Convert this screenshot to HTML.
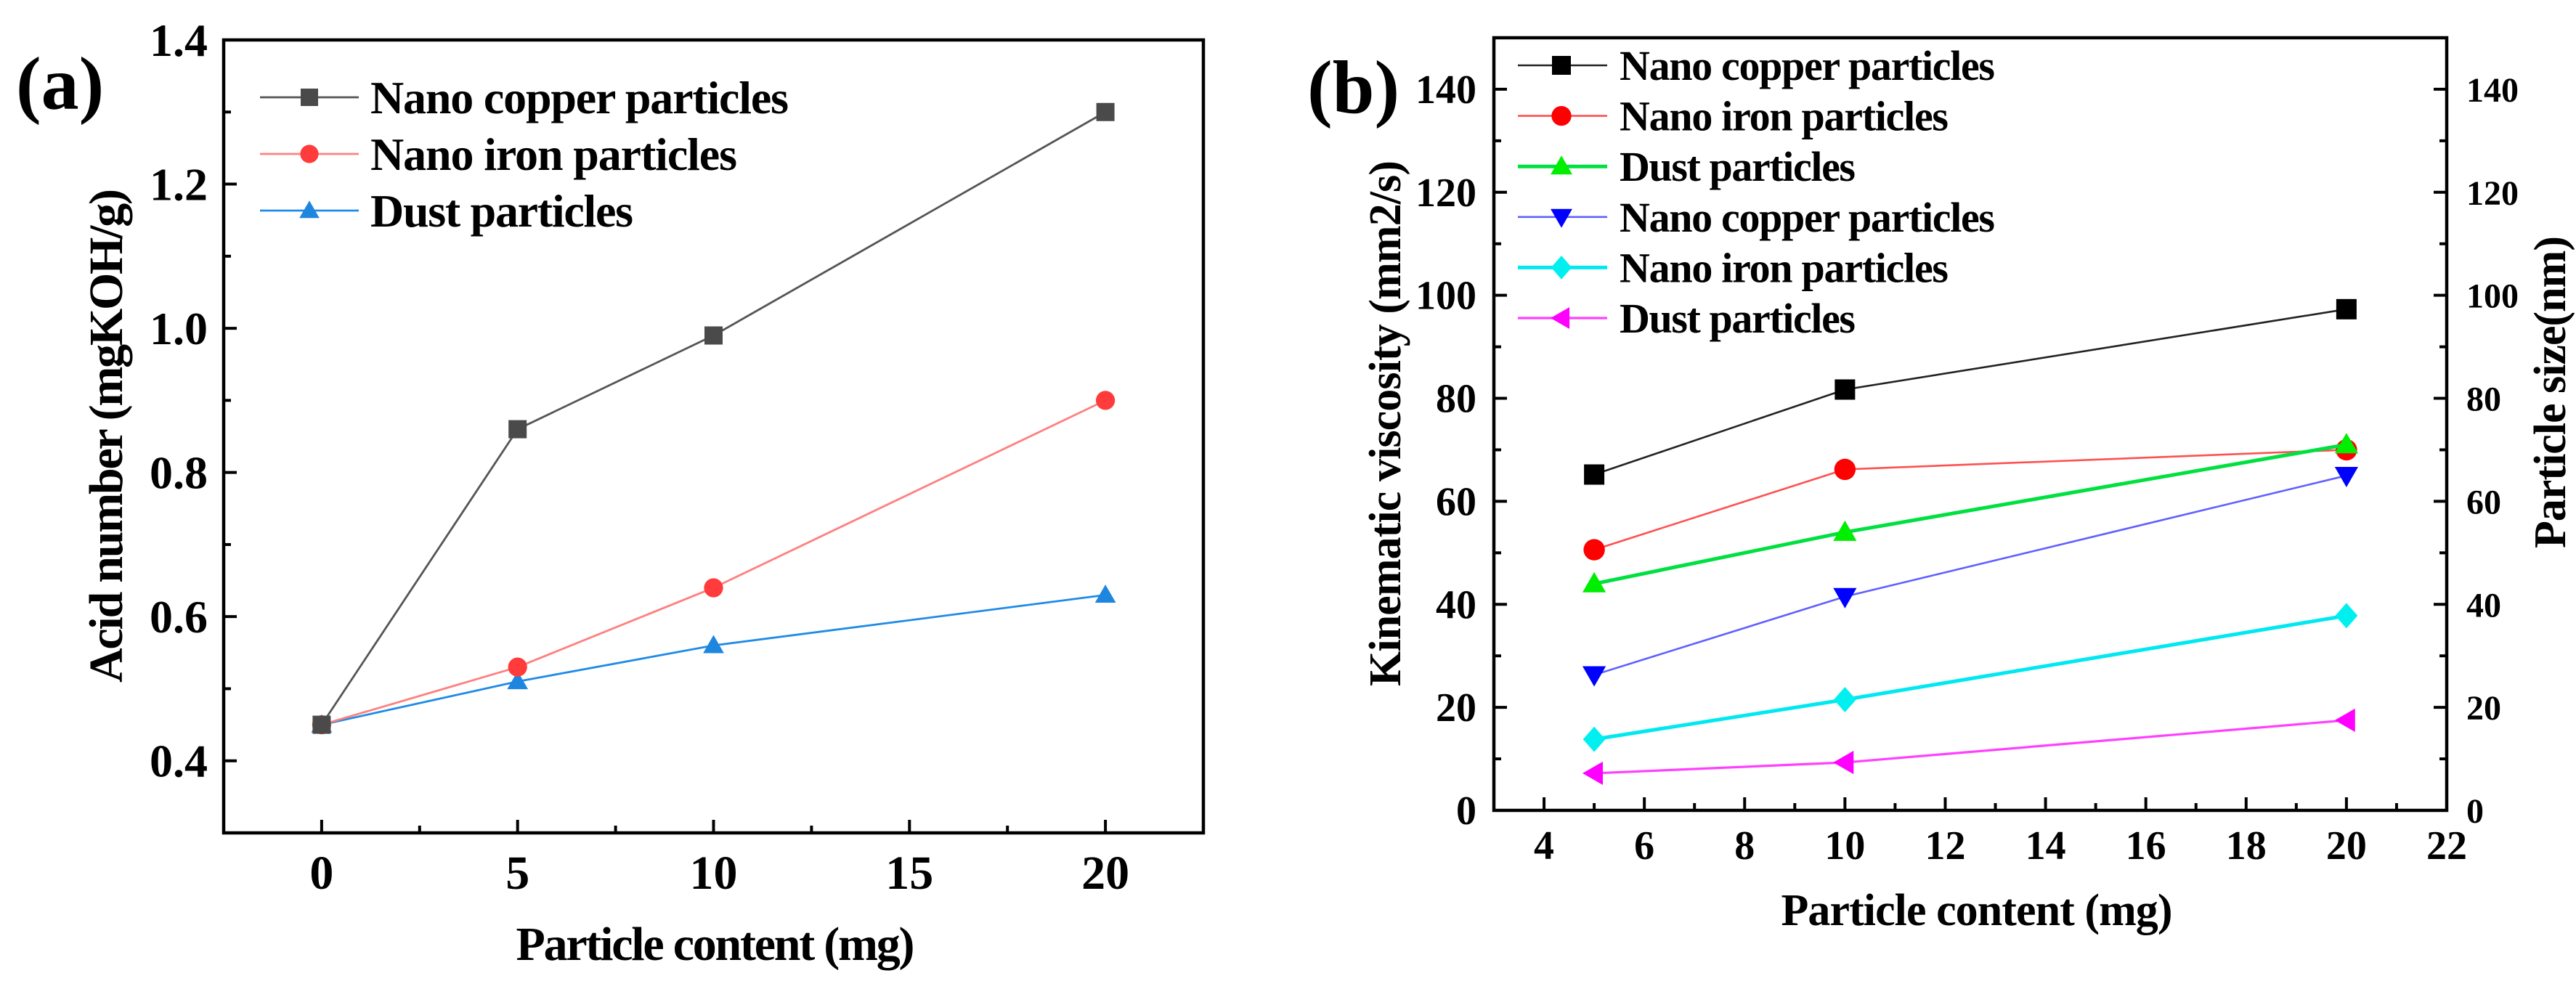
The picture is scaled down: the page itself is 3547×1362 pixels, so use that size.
<!DOCTYPE html>
<html><head><meta charset="utf-8"><style>
html,body{margin:0;padding:0;background:#fff;}
svg{display:block;}
text{font-family:"Liberation Serif",serif;font-weight:bold;fill:#000;}
</style></head><body>
<svg id="fig" width="3547" height="1362" viewBox="0 0 3547 1362" xmlns="http://www.w3.org/2000/svg"></svg>
<script>
// Panel (a) data
const aX = [0, 5, 10, 20];
const aCopper = [0.45, 0.86, 0.99, 1.30];
const aIron = [0.45, 0.53, 0.64, 0.90];
const aDust = [0.45, 0.51, 0.56, 0.63];
const aXTicks = [0, 5, 10, 15, 20];
const aYTicks = [0.4, 0.6, 0.8, 1.0, 1.2, 1.4];
const aYTickLabels = ["0.4", "0.6", "0.8", "1.0", "1.2", "1.4"];
// Panel (b) data
const bX = [5, 10, 20];
const bCopperVisc = [65.2, 81.7, 97.3];
const bIronVisc = [50.6, 66.2, 70.0];
const bDustVisc = [44.0, 54.0, 71.0];
const bCopperSize = [26.3, 41.5, 65.0];
const bIronSize = [13.8, 21.5, 37.8];
const bDustSize = [7.2, 9.3, 17.5];
const bXTicks = [4, 6, 8, 10, 12, 14, 16, 18, 20, 22];
const bYTicks = [0, 20, 40, 60, 80, 100, 120, 140];

const NS = "http://www.w3.org/2000/svg";
const svg = document.getElementById('fig');
function el(tag, attrs, parent) {
  const e = document.createElementNS(NS, tag);
  for (const k in attrs) e.setAttribute(k, attrs[k]);
  (parent || svg).appendChild(e);
  return e;
}
function txt(s, attrs, parent) { const t = el('text', attrs, parent); t.textContent = s; return t; }

function marker(g, shape, cx, cy, color, s) {
  let m;
  const h = s / 2;
  if (shape === 'square') m = el('rect', {x: cx - h, y: cy - h, width: s, height: s, fill: color}, g);
  else if (shape === 'circle') m = el('circle', {cx: cx, cy: cy, r: h * 1.05, fill: color}, g);
  else if (shape === 'up') m = el('polygon', {points: `${cx},${cy - h * 1.15} ${cx - h * 1.15},${cy + h * 0.85} ${cx + h * 1.15},${cy + h * 0.85}`, fill: color}, g);
  else if (shape === 'down') m = el('polygon', {points: `${cx},${cy + h * 1.15} ${cx - h * 1.15},${cy - h * 0.85} ${cx + h * 1.15},${cy - h * 0.85}`, fill: color}, g);
  else if (shape === 'diamond') m = el('polygon', {points: `${cx},${cy - h * 1.25} ${cx + h * 1.1},${cy} ${cx},${cy + h * 1.25} ${cx - h * 1.1},${cy}`, fill: color}, g);
  else if (shape === 'left') m = el('polygon', {points: `${cx - h * 1.15},${cy} ${cx + h * 0.85},${cy - h * 1.15} ${cx + h * 0.85},${cy + h * 1.15}`, fill: color}, g);
  
  
  return m;
}

// ---------- Panel (a) ----------
const A = {l: 308, t: 55, r: 1657, b: 1147, x0: -2.5, x1: 22.5, y0: 0.3, y1: 1.4};
const ax = v => A.l + (v - A.x0) / (A.x1 - A.x0) * (A.r - A.l);
const ay = v => A.b - (v - A.y0) / (A.y1 - A.y0) * (A.b - A.t);
const gA = el('g', { });
txt('(a)', {x: 22, y: 150, 'font-size': 104,  }, gA);
el('rect', {x: A.l, y: A.t, width: A.r - A.l, height: A.b - A.t, fill: 'none', stroke: '#000', 'stroke-width': 4.5,  }, gA);
for (let v = -2.5; v <= 22.5; v += 2.5) {
  if (v <= A.x0 || v >= A.x1) continue;
  const major = Math.abs(v % 5) < 1e-6;
  el('line', {x1: ax(v), x2: ax(v), y1: A.b, y2: A.b - (major ? 18 : 10), stroke: '#000', 'stroke-width': 4,  }, gA);
}
aXTicks.forEach(v => txt(String(v), {x: ax(v), y: 1224, 'font-size': 66, 'text-anchor': 'middle',  }, gA));
for (let i = 3; i <= 13; i++) {
  const v = i / 10;
  const major = i % 2 === 0;
  el('line', {x1: A.l, x2: A.l + (major ? 18 : 10), y1: ay(v), y2: ay(v), stroke: '#000', 'stroke-width': 4,  }, gA);
}
aYTicks.forEach((v, i) => txt(aYTickLabels[i], {x: 286, y: ay(v) + 22, 'font-size': 64, 'text-anchor': 'end',  }, gA));
txt('Particle content (mg)', {x: 985, y: 1322, 'font-size': 66, 'text-anchor': 'middle', textLength: 549,  }, gA);
txt('Acid number (mgKOH/g)', {x: 0, y: 0, 'font-size': 66, 'text-anchor': 'middle', textLength: 680, transform: 'translate(168,600) rotate(-90)',  }, gA);

const aSeries = [
  {name: 'Nano copper particles', vals: aCopper, line: '#555', mcolor: '#4a4a4a', shape: 'square', key: 'copper'},
  {name: 'Nano iron particles', vals: aIron, line: '#ff8080', mcolor: '#ff3b3b', shape: 'circle', key: 'iron'},
  {name: 'Dust particles', vals: aDust, line: '#1f8be6', mcolor: '#1f86e0', shape: 'up', key: 'dust'}
];
[...aSeries].reverse().forEach(s => {
  const g = el('g', { }, gA);
  el('polyline', {points: aX.map((x, i) => ax(x) + ',' + ay(s.vals[i])).join(' '), fill: 'none', stroke: s.line, 'stroke-width': 2.8,  }, g);
  aX.forEach((x, i) => marker(g, s.shape, ax(x), ay(s.vals[i]), s.mcolor, 25));
});
aSeries.forEach((s, i) => {
  const y = 134 + i * 78;
  const g = el('g', { }, gA);
  el('line', {x1: 358, x2: 494, y1: y, y2: y, stroke: s.line, 'stroke-width': 2.8}, g);
  marker(g, s.shape, 426, y, s.mcolor, 24);
  const w = [576, 505, 362][i];
  txt(s.name, {x: 510, y: y + 22, 'font-size': 64, textLength: w,  }, g);
});

// ---------- Panel (b) ----------
const B = {l: 2057, t: 52, r: 3369, b: 1116, x0: 3, x1: 22, y0: 0, y1: 150};
const bx = v => B.l + (v - B.x0) / (B.x1 - B.x0) * (B.r - B.l);
const by = v => B.b - (v - B.y0) / (B.y1 - B.y0) * (B.b - B.t);
const gB = el('g', { });
txt('(b)', {x: 1800, y: 155, 'font-size': 104,  }, gB);
el('rect', {x: B.l, y: B.t, width: B.r - B.l, height: B.b - B.t, fill: 'none', stroke: '#000', 'stroke-width': 4.5,  }, gB);
for (let v = 4; v <= 21; v += 1) {
  const major = v % 2 === 0;
  el('line', {x1: bx(v), x2: bx(v), y1: B.b, y2: B.b - (major ? 18 : 10), stroke: '#000', 'stroke-width': 4,  }, gB);
}
bXTicks.forEach(v => txt(String(v), {x: bx(v), y: 1183, 'font-size': 56, 'text-anchor': 'middle',  }, gB));
for (let v = 10; v <= 140; v += 10) {
  const major = v % 20 === 0;
  const len = major ? 18 : 10;
  el('line', {x1: B.l, x2: B.l + len, y1: by(v), y2: by(v), stroke: '#000', 'stroke-width': 4,  }, gB);
  el('line', {x1: B.r, x2: B.r - len, y1: by(v), y2: by(v), stroke: '#000', 'stroke-width': 4,  }, gB);
}
bYTicks.forEach(v => {
  txt(String(v), {x: 2033, y: by(v) + 19, 'font-size': 56, 'text-anchor': 'end',  }, gB);
  txt(String(v), {x: 3396, y: by(v) + 17, 'font-size': 48, 'text-anchor': 'start',  }, gB);
});
txt('Particle content (mg)', {x: 2722, y: 1274, 'font-size': 62, 'text-anchor': 'middle', textLength: 539,  }, gB);
txt('Kinematic viscosity (mm2/s)', {x: 0, y: 0, 'font-size': 62, 'text-anchor': 'middle', textLength: 724, transform: 'translate(1928,583) rotate(-90)',  }, gB);
txt('Particle size(nm)', {x: 0, y: 0, 'font-size': 62, 'text-anchor': 'middle', textLength: 430, transform: 'translate(3532,540) rotate(-90)',  }, gB);

const bSeries = [
  {name: 'Nano copper particles', vals: bCopperVisc, line: '#222', mcolor: '#000', shape: 'square', w: 2.6, key: 'copper-viscosity'},
  {name: 'Nano iron particles', vals: bIronVisc, line: '#ff5050', mcolor: '#ff0000', shape: 'circle', w: 2.6, key: 'iron-viscosity'},
  {name: 'Dust particles', vals: bDustVisc, line: '#00e040', mcolor: '#00ee00', shape: 'up', w: 5, key: 'dust-viscosity'},
  {name: 'Nano copper particles', vals: bCopperSize, line: '#6060ff', mcolor: '#0000ff', shape: 'down', w: 2.6, key: 'copper-size'},
  {name: 'Nano iron particles', vals: bIronSize, line: '#00e8f0', mcolor: '#00f0f0', shape: 'diamond', w: 5, key: 'iron-size'},
  {name: 'Dust particles', vals: bDustSize, line: '#ff40ff', mcolor: '#ff00ff', shape: 'left', w: 3.2, key: 'dust-size'}
];
bSeries.forEach(s => {
  const g = el('g', { }, gB);
  el('polyline', {points: bX.map((x, i) => bx(x) + ',' + by(s.vals[i])).join(' '), fill: 'none', stroke: s.line, 'stroke-width': s.w,  }, g);
  bX.forEach((x, i) => marker(g, s.shape, bx(x), by(s.vals[i]), s.mcolor, 28));
});
bSeries.forEach((s, i) => {
  const y = 90 + i * 69.6;
  const g = el('g', { }, gB);
  el('line', {x1: 2090, x2: 2213, y1: y, y2: y, stroke: s.line, 'stroke-width': s.w}, g);
  marker(g, s.shape, 2150, y, s.mcolor, 26);
  const w = [517, 453, 325, 517, 453, 325][i];
  txt(s.name, {x: 2230, y: y + 20, 'font-size': 58, textLength: w,  }, g);
});
</script>
</body></html>
